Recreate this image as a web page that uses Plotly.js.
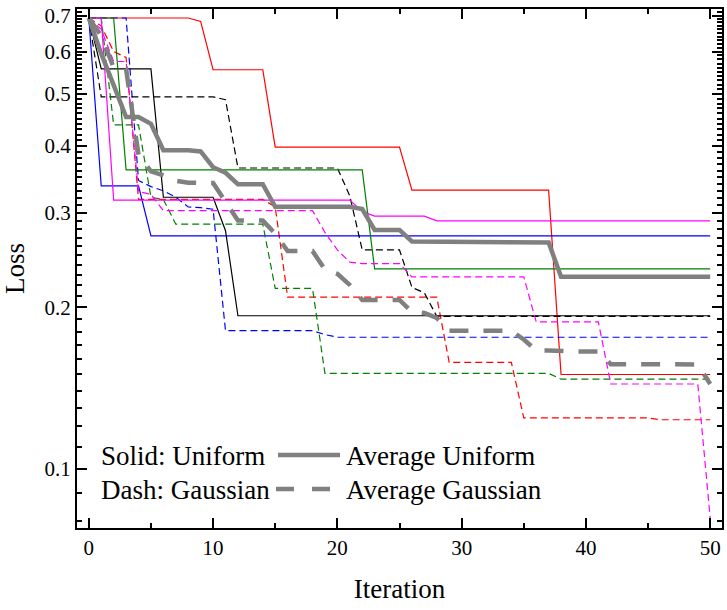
<!DOCTYPE html>
<html>
<head>
<meta charset="utf-8">
<script src="https://cdn.plot.ly/plotly-3.0.1.min.js"></script>
<style>
html,body{margin:0;padding:0;background:#ffffff;}
#chart{width:727px;height:610px;}
</style>
</head>
<body>
<div id="chart"></div>
<script>
// ---------- data ----------
const iterations = [0,1,2,3,4,5,6,7,8,9,10,11,12,13,14,15,16,17,18,19,20,21,22,23,24,25,26,27,28,29,30,31,32,33,34,35,36,37,38,39,40,41,42,43,44,45,46,47,48,49,50];

// Uniform runs (solid)
const uniformRed = [0.693,0.693,0.693,0.693,0.693,0.693,0.693,0.693,0.693,0.683,
  0.555,0.555,0.555,0.555,0.555,
  0.398,0.398,0.398,0.398,0.398,0.398,0.398,0.398,0.398,0.398,0.398,
  0.331,0.331,0.331,0.331,0.331,0.331,0.331,0.331,0.331,0.331,0.331,0.331,
  0.150,0.150,0.150,0.150,0.150,0.150,0.150,0.150,0.150,0.150,0.150,0.150,0.150];
const uniformBlue = [0.693,0.337,0.337,0.337,0.337,
  0.272,0.272,0.272,0.272,0.272,0.272,0.272,0.272,0.272,0.272,0.272,0.272,0.272,0.272,0.272,0.272,
  0.272,0.272,0.272,0.272,0.272,0.272,0.272,0.272,0.272,0.272,0.272,0.272,0.272,0.272,0.272,0.272,
  0.272,0.272,0.272,0.272,0.272,0.272,0.272,0.272,0.272,0.272,0.272,0.272,0.272,0.272];
const uniformBlack = [0.693,0.557,0.557,0.557,0.557,0.557,0.321,0.321,0.321,0.321,0.321,0.278,
  0.193,0.193,0.193,0.193,0.193,0.193,0.193,0.193,0.193,0.193,0.193,0.193,0.193,0.193,0.193,0.193,
  0.193,0.193,0.193,0.193,0.193,0.193,0.193,0.193,0.193,0.193,0.193,0.193,0.193,0.193,0.193,0.193,
  0.193,0.193,0.193,0.193,0.193,0.193,0.193];
const uniformGreen = [0.693,0.693,0.693,
  0.361,0.361,0.361,0.361,0.361,0.361,0.361,0.361,0.361,0.361,0.361,0.361,0.361,0.361,0.361,0.361,0.361,0.361,0.361,0.361,
  0.236,0.236,0.236,0.236,0.236,0.236,0.236,0.236,0.236,0.236,0.236,0.236,0.236,0.236,0.236,0.236,0.236,0.236,0.236,0.236,
  0.236,0.236,0.236,0.236,0.236,0.236,0.236,0.236];
const uniformMagenta = [0.693,0.693,
  0.317,0.317,0.317,0.317,0.317,0.317,0.317,0.317,0.317,0.317,0.317,0.317,0.317,0.317,0.317,0.317,0.317,0.317,0.317,0.317,
  0.302,0.296,0.296,0.296,0.296,0.296,
  0.290,0.290,0.290,0.290,0.290,0.290,0.290,0.290,0.290,0.290,0.290,0.290,0.290,0.290,0.290,0.290,0.290,0.290,0.290,0.290,
  0.290,0.290,0.290];

// Gaussian runs (dashed)
const gaussRed = [0.693,0.670,0.600,0.585,
  0.318,0.318,0.318,0.318,0.318,0.318,0.318,0.318,0.318,0.318,0.318,0.308,
  0.209,0.209,0.209,0.209,0.209,0.209,0.209,0.209,0.209,0.209,0.209,0.209,0.209,
  0.158,0.158,0.158,0.158,0.158,0.158,
  0.1245,0.1245,0.1245,0.1245,0.1245,0.1245,0.1245,0.1245,0.1245,0.1245,0.1245,
  0.1235,0.1235,0.1235,0.1235,0.1235];
const gaussBlue = [0.693,0.693,0.693,0.693,0.345,0.336,0.330,0.321,0.308,0.307,0.305,
  0.181,0.181,0.181,0.181,0.181,0.181,0.181,0.181,0.178,
  0.176,0.176,0.176,0.176,0.176,0.176,0.176,0.176,0.176,0.176,0.176,0.176,0.176,0.176,0.176,0.176,
  0.176,0.176,0.176,0.176,0.176,0.176,0.176,0.176,0.176,0.176,0.176,0.176,0.176,0.176,0.176];
const gaussBlack = [0.693,0.494,0.494,0.494,0.494,0.494,0.494,0.494,0.494,0.494,0.494,0.488,
  0.364,0.364,0.364,0.364,0.364,0.364,0.364,0.364,0.364,0.323,
  0.256,0.256,0.256,0.256,0.218,0.213,
  0.1925,0.1925,0.1925,0.1925,0.1925,0.1925,0.1925,0.1925,0.1925,0.1925,0.1925,0.1925,0.1925,0.1925,
  0.1925,0.1925,0.1925,0.1925,0.1925,0.1925,0.1925,0.1925,0.1925];
const gaussGreen = [0.693,0.693,0.438,0.438,0.438,0.321,0.318,
  0.286,0.286,0.286,0.286,0.286,0.286,0.286,0.286,
  0.217,0.217,0.217,0.217,
  0.1507,0.1507,0.1507,0.1507,0.1507,0.1507,0.1507,0.1507,0.1507,0.1507,0.1507,0.1507,0.1507,0.1507,
  0.1507,0.1507,0.1507,0.1507,0.1507,
  0.147,0.147,0.147,0.147,0.147,0.147,0.147,0.147,0.147,0.147,0.147,0.147,0.147];
const gaussMagenta = [0.693,0.660,0.575,0.575,0.329,0.325,
  0.303,0.303,0.303,0.303,0.303,0.303,0.303,0.303,0.303,0.303,0.303,0.303,0.303,
  0.276,0.256,0.243,0.2415,0.2415,0.2415,0.2415,
  0.228,0.228,0.228,0.228,0.228,0.228,0.228,0.228,0.228,0.228,
  0.188,0.188,0.188,0.188,0.188,0.188,
  0.144,0.144,0.144,0.144,0.144,0.144,0.144,0.144,0.081];

// Averages (gray)
const avgUniform = [0.693,0.5946,0.5194,0.453,0.453,0.440,0.3928,0.3928,0.3928,0.3908,0.3652,0.3566,
  0.3396,0.3396,0.3396,
  0.3082,0.3082,0.3082,0.3082,0.3082,0.3082,0.3082,0.3052,
  0.279,0.279,0.279,0.2656,0.2656,
  0.2644,0.2644,0.2644,0.2644,0.2644,0.2644,0.2644,0.2644,0.2644,0.2644,
  0.2282,0.2282,0.2282,0.2282,0.2282,0.2282,0.2282,0.2282,0.2282,0.2282,0.2282,0.2282,0.2282];
const avgGaussian = [0.693,0.642,0.560,0.557,0.3848,0.3588,0.3526,0.3444,0.3418,0.3416,0.3412,0.3152,
  0.2904,0.2904,0.2904,0.2746,0.2548,0.2548,0.2548,0.2355,0.2311,0.2203,
  0.2066,0.2066,0.2066,0.2066,0.1963,0.1953,0.1912,
  0.1810,0.1810,0.1810,0.1810,0.1810,0.1810,0.1743,0.1663,0.1663,
  0.1656,0.1656,0.1656,0.1656,0.1568,0.1568,0.1568,0.1568,0.1566,0.1566,0.1566,0.1566,0.1440];

const xTickVals = [0,10,20,30,40,50];
const yTickVals = [0.1,0.2,0.3,0.4,0.5,0.6,0.7];
const yTickText = ["0.1","0.2","0.3","0.4","0.5","0.6","0.7"];
const legendLabels = ["Solid: Uniform","Dash: Gaussian","Average Uniform","Average Gaussian"];

// ---------- styling ----------
const FONT = "Liberation Serif, 'Times New Roman', Times, serif";
const thinDash = "7px,4px";
const runs = [
  {u: uniformRed, g: gaussRed, c: "#ff0000"},
  {u: uniformBlue, g: gaussBlue, c: "#0000ff"},
  {u: uniformBlack, g: gaussBlack, c: "#000000"},
  {u: uniformGreen, g: gaussGreen, c: "#008000"},
  {u: uniformMagenta, g: gaussMagenta, c: "#ff00ff"}
];

const traces = [];
runs.forEach(r => {
  traces.push({x: iterations, y: r.u, type: "scatter", mode: "lines",
    line: {color: r.c, width: 1.2}, showlegend: false, hoverinfo: "x+y"});
  traces.push({x: iterations, y: r.g, type: "scatter", mode: "lines",
    line: {color: r.c, width: 1.2, dash: thinDash}, showlegend: false, hoverinfo: "x+y"});
});
traces.push({x: iterations, y: avgUniform, type: "scatter", mode: "lines", name: legendLabels[2],
  line: {color: "#808080", width: 4.5}, showlegend: false});
traces.push({x: iterations, y: avgGaussian, type: "scatter", mode: "lines", name: legendLabels[3],
  line: {color: "#808080", width: 4.5, dash: "19px,15px"}, showlegend: false});

// minor tick positions (style only)
const yMinor = [];
for (let k = 8; k <= 71; k++) { if (k % 10 !== 0) yMinor.push(k / 100); }

// plot area geometry for the hand-made key
const L = 77, R = 722, T = 9, B = 528;
const px = v => (v - L) / (R - L);
const py = v => (B - v) / (B - T);

const layout = {
  width: 727, height: 610,
  margin: {l: L, r: 727 - R, t: T, b: 610 - B, pad: 0},
  paper_bgcolor: "#ffffff", plot_bgcolor: "#ffffff",
  font: {family: FONT, color: "#000000", size: 21},
  showlegend: false,
  xaxis: {
    range: [-0.95, 50.95], tickmode: "array", tickvals: xTickVals,
    ticks: "inside", ticklen: 10, tickwidth: 2, tickcolor: "#000",
    showline: true, linewidth: 2, linecolor: "#000", mirror: "ticks",
    showgrid: false, zeroline: false,
    tickfont: {family: FONT, size: 21, color: "#000"},
    minor: {dtick: 5, tick0: 0, ticks: "inside", ticklen: 5, tickwidth: 2, tickcolor: "#000", showgrid: false},
    title: {text: "Iteration", font: {family: FONT, size: 27, color: "#000"}, standoff: 20}
  },
  yaxis: {
    type: "log", range: [Math.log10(0.0776), Math.log10(0.7203)],
    tickmode: "array", tickvals: yTickVals, ticktext: yTickText,
    ticks: "inside", ticklen: 10, tickwidth: 2, tickcolor: "#000",
    showline: true, linewidth: 2, linecolor: "#000", mirror: "ticks",
    showgrid: false, zeroline: false,
    tickfont: {family: FONT, size: 21, color: "#000"},
    minor: {tickmode: "array", tickvals: yMinor, ticks: "inside", ticklen: 5, tickwidth: 2, tickcolor: "#000", showgrid: false},
    title: {text: "Loss", font: {family: FONT, size: 27, color: "#000"}, standoff: 14}
  },
  shapes: [
    {type: "line", xref: "paper", yref: "paper", x0: px(278), x1: px(340), y0: py(455), y1: py(455),
      line: {color: "#808080", width: 4.5}},
    {type: "line", xref: "paper", yref: "paper", x0: px(276), x1: px(331), y0: py(489), y1: py(489),
      line: {color: "#808080", width: 4.5, dash: "18px,18px"}}
  ],
  annotations: [
    {text: legendLabels[0], xref: "paper", yref: "paper", x: px(99), y: py(456), xanchor: "left", yanchor: "middle",
      showarrow: false, font: {family: FONT, size: 27, color: "#000"}},
    {text: legendLabels[1], xref: "paper", yref: "paper", x: px(99), y: py(490), xanchor: "left", yanchor: "middle",
      showarrow: false, font: {family: FONT, size: 27, color: "#000"}},
    {text: legendLabels[2], xref: "paper", yref: "paper", x: px(344), y: py(456), xanchor: "left", yanchor: "middle",
      showarrow: false, font: {family: FONT, size: 27, color: "#000"}},
    {text: legendLabels[3], xref: "paper", yref: "paper", x: px(344), y: py(490), xanchor: "left", yanchor: "middle",
      showarrow: false, font: {family: FONT, size: 27, color: "#000"}}
  ]
};

Plotly.newPlot("chart", traces, layout, {staticPlot: true, displayModeBar: false});
</script>
</body>
</html>
